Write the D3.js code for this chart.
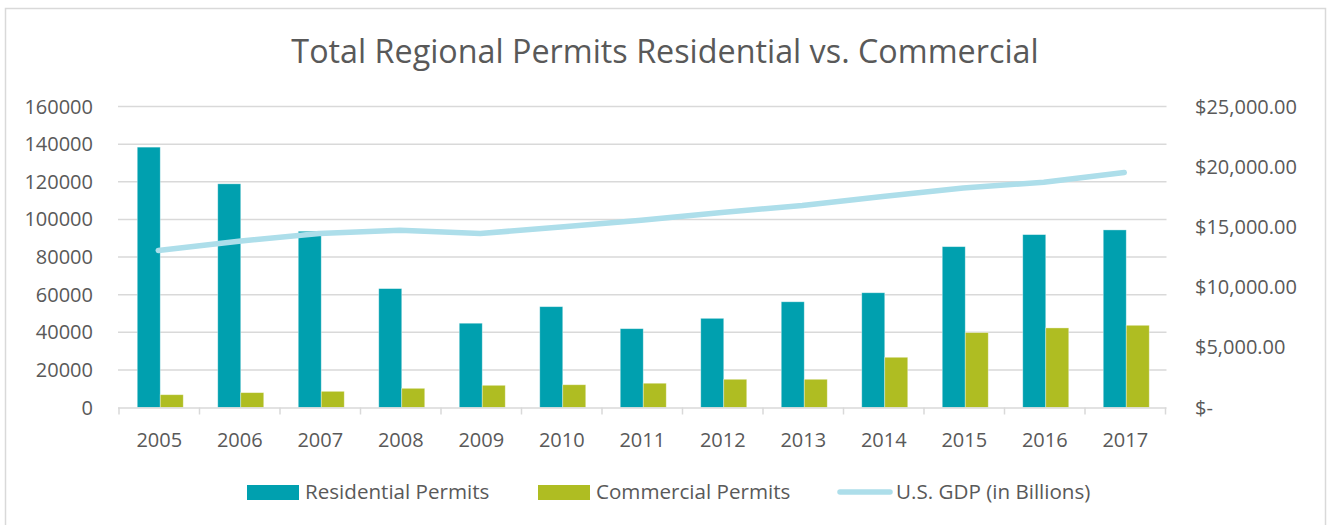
<!DOCTYPE html>
<html>
<head>
<meta charset="utf-8">
<script src="https://cdn.jsdelivr.net/npm/d3@7"></script>
<style>
  body { margin: 0; background: #fff; }
  svg text { font-family: "Open Sans", "Liberation Sans", sans-serif; fill: #595959; }
</style>
</head>
<body>
<div id="chart"></div>
<script>
// data
const years = ["2005", "2006", "2007", "2008", "2009", "2010", "2011", "2012", "2013", "2014", "2015", "2016", "2017"];
const residential = [138400, 118900, 93700, 63200, 44800, 53600, 41900, 47400, 56200, 61000, 85500, 91900, 94400];
const commercial = [6800, 7900, 8600, 10200, 11800, 12100, 12900, 15000, 15000, 26700, 39800, 42300, 43700];
const gdp = [13037, 13815, 14452, 14713, 14449, 14992, 15543, 16197, 16785, 17527, 18225, 18715, 19519];
const leftTicks = [0, 20000, 40000, 60000, 80000, 100000, 120000, 140000, 160000];
const rightTicks = [0, 5000, 10000, 15000, 20000, 25000];
const seriesNames = ["Residential Permits", "Commercial Permits", "U.S. GDP (in Billions)"];

const colors = { res: "#00A0AF", com: "#AFBD22", gdp: "#ADDEEA", grid: "#D9D9D9" };

const W = 1327, H = 525;
const plot = { left: 120, right: 1166.5, top: 106.5, bottom: 407.5 };

const svg = d3.select("#chart").append("svg")
    .attr("width", W)
    .attr("height", H);

// chart frame
svg.append("rect")
    .attr("x", 5.5).attr("y", 8.5)
    .attr("width", 1320).attr("height", 540)
    .attr("fill", "#fff")
    .attr("stroke", colors.grid)
    .attr("stroke-width", 1.5);

svg.append("text")
    .attr("x", 665)
    .attr("y", 63)
    .attr("text-anchor", "middle")
    .attr("font-size", 32.3)
    .text("Total Regional Permits Residential vs. Commercial");

const x0 = d3.scaleBand().domain(years).range([plot.left, plot.right]);
const x1 = d3.scaleBand().domain(["res", "com"]).range([0, x0.bandwidth()]).paddingOuter(0.75);
const yL = d3.scaleLinear().domain([0, 160000]).range([plot.bottom, plot.top]);
const yR = d3.scaleLinear().domain([0, 25000]).range([plot.bottom, plot.top]);

// gridlines
svg.append("g")
    .selectAll("line")
    .data(leftTicks.slice(1))
    .enter().append("line")
    .attr("x1", plot.left - 2).attr("x2", plot.right)
    .attr("y1", d => yL(d)).attr("y2", d => yL(d))
    .attr("stroke", colors.grid)
    .attr("stroke-width", 1.5);

// left axis labels
svg.append("g")
    .selectAll("text")
    .data(leftTicks)
    .enter().append("text")
    .attr("x", 93)
    .attr("y", d => yL(d))
    .attr("dy", "0.35em")
    .attr("text-anchor", "end")
    .attr("font-size", 20)
    .text(d => d);

// right axis labels
const money = d3.format(",.2f");
svg.append("g")
    .selectAll("text")
    .data(rightTicks)
    .enter().append("text")
    .attr("x", 1195)
    .attr("y", d => yR(d))
    .attr("dy", "0.35em")
    .attr("font-size", 20)
    .text(d => d === 0 ? "$-" : "$" + money(d));

// bars
const groups = svg.append("g")
    .selectAll("g")
    .data(years)
    .enter().append("g")
    .attr("transform", d => `translate(${x0(d)},0)`);

groups.append("rect")
    .attr("x", x1("res"))
    .attr("width", x1.bandwidth())
    .attr("y", (d, i) => yL(residential[i]))
    .attr("height", (d, i) => plot.bottom - yL(residential[i]))
    .attr("fill", colors.res)
    .attr("stroke", "#fff")
    .attr("stroke-opacity", 0.45)
    .attr("stroke-width", 0.8);

groups.append("rect")
    .attr("x", x1("com"))
    .attr("width", x1.bandwidth())
    .attr("y", (d, i) => yL(commercial[i]))
    .attr("height", (d, i) => plot.bottom - yL(commercial[i]))
    .attr("fill", colors.com)
    .attr("stroke", "#fff")
    .attr("stroke-opacity", 0.45)
    .attr("stroke-width", 0.8);

// x axis line and ticks
svg.append("line")
    .attr("x1", plot.left - 2).attr("x2", plot.right)
    .attr("y1", plot.bottom + 0.5).attr("y2", plot.bottom + 0.5)
    .attr("stroke", colors.grid)
    .attr("stroke-width", 1.5);

const tickXs = years.map(d => x0(d)).concat([plot.right]);
svg.append("g")
    .selectAll("line")
    .data(tickXs)
    .enter().append("line")
    .attr("x1", d => d - 1).attr("x2", d => d - 1)
    .attr("y1", plot.bottom).attr("y2", plot.bottom + 7)
    .attr("stroke", colors.grid)
    .attr("stroke-width", 1.5);

svg.append("g")
    .selectAll("text")
    .data(years)
    .enter().append("text")
    .attr("x", d => x0(d) + x0.bandwidth() / 2 - 1)
    .attr("y", 447)
    .attr("text-anchor", "middle")
    .attr("font-size", 20)
    .text(d => d);

// GDP line
const line = d3.line()
    .x((d, i) => x0(years[i]) + x0.bandwidth() / 2 - 2)
    .y(d => yR(d));

svg.append("path")
    .datum(gdp)
    .attr("d", line)
    .attr("fill", "none")
    .attr("stroke", colors.gdp)
    .attr("stroke-width", 5.5)
    .attr("stroke-linecap", "round")
    .attr("stroke-linejoin", "round");

// legend
const legend = svg.append("g");
legend.append("rect").attr("x", 247).attr("y", 485).attr("width", 52).attr("height", 15).attr("fill", colors.res);
legend.append("text").attr("x", 305).attr("y", 499).attr("font-size", 20.6).text(seriesNames[0]);
legend.append("rect").attr("x", 538).attr("y", 485).attr("width", 52).attr("height", 15).attr("fill", colors.com);
legend.append("text").attr("x", 596).attr("y", 499).attr("font-size", 20.6).text(seriesNames[1]);
legend.append("line").attr("x1", 840).attr("x2", 890).attr("y1", 492).attr("y2", 492)
    .attr("stroke", colors.gdp).attr("stroke-width", 5.5).attr("stroke-linecap", "round");
legend.append("text").attr("x", 896).attr("y", 499).attr("font-size", 20.6).text(seriesNames[2]);
</script>
</body>
</html>
